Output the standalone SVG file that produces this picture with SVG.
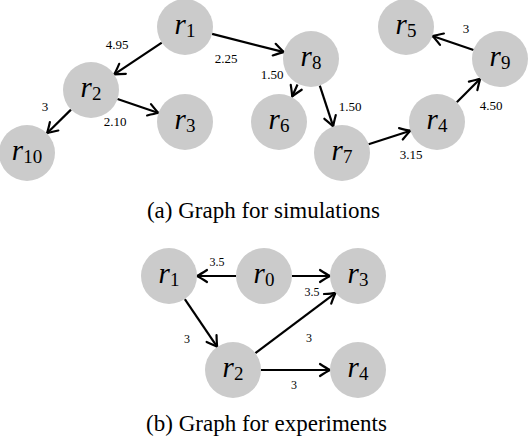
<svg xmlns="http://www.w3.org/2000/svg" width="528" height="438" viewBox="0 0 528 438">
<style>
.node circle{fill:#cbcbcb;stroke:none}
.node text{font-family:"Liberation Serif","Times New Roman",serif;text-anchor:middle;fill:#000}
.v{font-style:italic;font-size:29px}
.s{font-size:19px}
.edges line{stroke:#000;stroke-width:2.2;marker-end:url(#arr)}
.lbl{font-family:"Liberation Serif","Times New Roman",serif;text-anchor:middle;fill:#000;font-size:13px}
.lbl2{font-size:12px}
.cap{font-family:"Liberation Serif","Times New Roman",serif;text-anchor:middle;fill:#000;font-size:23px}
</style>
<defs>
<marker id="arr" viewBox="-12 -8 14 16" refX="0" refY="0" markerWidth="14" markerHeight="16" markerUnits="userSpaceOnUse" orient="auto">
<path d="M-10,-6 Q-3.5,-1.8 0,0 Q-3.5,1.8 -10,6" fill="none" stroke="#000" stroke-width="2.2" stroke-linecap="round" stroke-linejoin="round"/>
</marker>
</defs>
<rect width="528" height="438" fill="#fff"/>
<g id="a-edges" class="edges">
<line x1="161.8" y1="42.6" x2="114.2" y2="74.4"/>
<line x1="117.5" y1="99.0" x2="158.5" y2="113.0"/>
<line x1="71.0" y1="109.6" x2="47.0" y2="133.3"/>
<line x1="212.1" y1="33.9" x2="283.9" y2="52.1"/>
<line x1="297.5" y1="84.5" x2="292.2" y2="96.5"/>
<line x1="319.8" y1="85.6" x2="333.2" y2="126.4"/>
<line x1="368.6" y1="144.3" x2="410.4" y2="130.7"/>
<line x1="456.8" y1="102.2" x2="480.2" y2="78.8"/>
<line x1="473.5" y1="50.0" x2="432.5" y2="36.0"/>
</g>
<g id="b-edges" class="edges">
<line x1="236" y1="276" x2="197" y2="276"/>
<line x1="292" y1="276" x2="330" y2="276"/>
<line x1="184.8" y1="299.2" x2="217.2" y2="346.8"/>
<line x1="255.4" y1="353.2" x2="335.6" y2="292.8"/>
<line x1="261" y1="370" x2="330" y2="370"/>
</g>
<g id="a-r1" class="node"><circle cx="185" cy="27" r="28"/><text x="185" y="33.5"><tspan class="v">r</tspan><tspan class="s" dy="3">1</tspan></text></g>
<g id="a-r2" class="node"><circle cx="91" cy="90" r="28"/><text x="91" y="96.5"><tspan class="v">r</tspan><tspan class="s" dy="3">2</tspan></text></g>
<g id="a-r3" class="node"><circle cx="185" cy="122" r="28"/><text x="185" y="128.5"><tspan class="v">r</tspan><tspan class="s" dy="3">3</tspan></text></g>
<g id="a-r10" class="node"><circle cx="27" cy="153" r="28"/><text x="27" y="159.5"><tspan class="v">r</tspan><tspan class="s" dy="3">10</tspan></text></g>
<g id="a-r8" class="node"><circle cx="311" cy="59" r="28"/><text x="311" y="65.5"><tspan class="v">r</tspan><tspan class="s" dy="3">8</tspan></text></g>
<g id="a-r6" class="node"><circle cx="279" cy="122" r="28"/><text x="279" y="128.5"><tspan class="v">r</tspan><tspan class="s" dy="3">6</tspan></text></g>
<g id="a-r7" class="node"><circle cx="342" cy="153" r="28"/><text x="342" y="159.5"><tspan class="v">r</tspan><tspan class="s" dy="3">7</tspan></text></g>
<g id="a-r4" class="node"><circle cx="437" cy="122" r="28"/><text x="437" y="128.5"><tspan class="v">r</tspan><tspan class="s" dy="3">4</tspan></text></g>
<g id="a-r9" class="node"><circle cx="500" cy="59" r="28"/><text x="500" y="65.5"><tspan class="v">r</tspan><tspan class="s" dy="3">9</tspan></text></g>
<g id="a-r5" class="node"><circle cx="406" cy="27" r="28"/><text x="406" y="33.5"><tspan class="v">r</tspan><tspan class="s" dy="3">5</tspan></text></g>
<g id="b-r1" class="node"><circle cx="169" cy="276" r="28"/><text x="169" y="282.5"><tspan class="v">r</tspan><tspan class="s" dy="3">1</tspan></text></g>
<g id="b-r0" class="node"><circle cx="264" cy="276" r="28"/><text x="264" y="282.5"><tspan class="v">r</tspan><tspan class="s" dy="3">0</tspan></text></g>
<g id="b-r3" class="node"><circle cx="358" cy="276" r="28"/><text x="358" y="282.5"><tspan class="v">r</tspan><tspan class="s" dy="3">3</tspan></text></g>
<g id="b-r2" class="node"><circle cx="233" cy="370" r="28"/><text x="233" y="376.5"><tspan class="v">r</tspan><tspan class="s" dy="3">2</tspan></text></g>
<g id="b-r4" class="node"><circle cx="358" cy="370" r="28"/><text x="358" y="376.5"><tspan class="v">r</tspan><tspan class="s" dy="3">4</tspan></text></g>
<g id="edge-labels">
<text class="lbl" x="117" y="49">4.95</text>
<text class="lbl" x="226" y="63">2.25</text>
<text class="lbl" x="45" y="111">3</text>
<text class="lbl" x="115" y="126">2.10</text>
<text class="lbl" x="272" y="79">1.50</text>
<text class="lbl" x="350" y="111">1.50</text>
<text class="lbl" x="411" y="159">3.15</text>
<text class="lbl" x="491" y="110">4.50</text>
<text class="lbl" x="466" y="33">3</text>
<text class="lbl lbl2" x="217" y="266">3.5</text>
<text class="lbl lbl2" x="312" y="296">3.5</text>
<text class="lbl lbl2" x="187" y="343">3</text>
<text class="lbl lbl2" x="309" y="342">3</text>
<text class="lbl lbl2" x="294" y="389">3</text>
</g>
<text class="cap" x="263.5" y="218">(a) Graph for simulations</text>
<text class="cap" x="266.5" y="431">(b) Graph for experiments</text>
</svg>
